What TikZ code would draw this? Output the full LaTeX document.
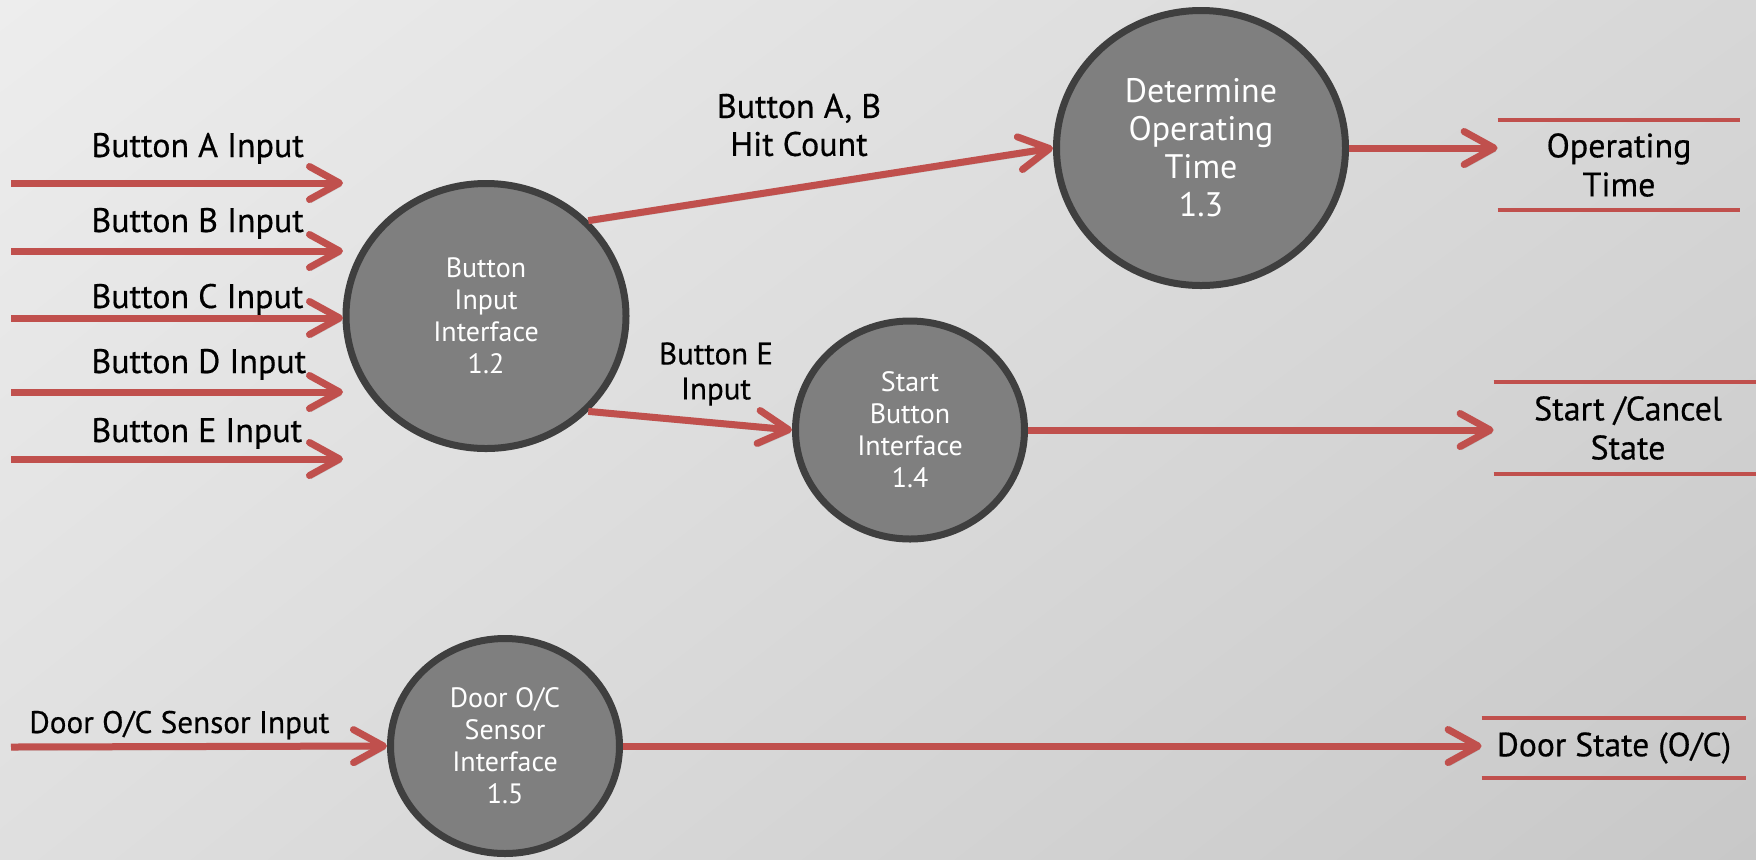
\documentclass[tikz,border=0pt]{standalone}
\usepackage{fontspec}
\setmainfont{PT Sans}
\newfontfamily\labelfamily{PT Sans}[FakeBold=0.5]
\usetikzlibrary{arrows.meta,shapes.geometric,shadings}
\definecolor{flowred}{HTML}{C0504D}
\definecolor{procfill}{HTML}{7F7F7F}
\definecolor{procedge}{HTML}{3F3F3F}
\definecolor{bgUL}{HTML}{EDEDED}
\definecolor{bgUR}{HTML}{D7D7D7}
\definecolor{bgLL}{HTML}{DFDFDF}
\definecolor{bgLR}{HTML}{C8C8C8}
\begin{document}
\begin{tikzpicture}[x=0.5pt,y=-0.5pt,
  flow/.style={draw=flowred, line width=3.5pt,
    -{Straight Barb[length=15pt,width=16.5pt,round]},
    preaction={draw=black, opacity=0.12,
      transform canvas={shift={(0.8pt,-1.6pt)}}}},
  proc/.style={ellipse, draw=procedge, line width=3.5pt, fill=procfill,
    text=white, align=center, inner sep=0pt},
  smallproc/.style={proc, font=\fontsize{14}{16}\selectfont},
  bigproc/.style={proc, font=\fontsize{17}{19}\selectfont},
  lbl/.style={text=black, inner sep=0pt, font=\labelfamily\fontsize{17}{19}\selectfont},
  store/.style={inner sep=0pt, align=center, text=black,
    font=\labelfamily\fontsize{17}{19.5}\selectfont},
  storeline/.style={draw=flowred, line width=2pt}]

% backdrop
\shade[upper left=bgUL, upper right=bgUR, lower left=bgLL, lower right=bgLR]
  (0,0) rectangle (1756,859);
\useasboundingbox (0,0) rectangle (1756,859);

% processes
\node[smallproc, minimum width=140pt, minimum height=132.5pt] (p12) at (486,316)
  {Button\\Input\\Interface\\1.2};
\node[bigproc, minimum width=144.5pt, minimum height=137.5pt] (p13) at (1201,148)
  {Determine\\Operating\\Time\\1.3};
\node[smallproc, minimum width=114.5pt, minimum height=109pt] (p14) at (910,430)
  {Start\\Button\\Interface\\1.4};
\node[smallproc, minimum width=114.5pt, minimum height=107.5pt] (p15) at (505,746)
  {Door O/C\\Sensor\\Interface\\1.5};

% data stores
\node[store, minimum width=121pt, minimum height=45pt] (ot) at (1619,165)
  {Operating\\Time};
\node[store, minimum width=134pt, minimum height=45.5pt] (sc) at (1628,428)
  {Start /Cancel\\State};
\node[store, minimum width=132pt, minimum height=30pt,
      font=\labelfamily\fontsize{16.8}{18}\selectfont] (ds) at (1614,748)
  {Door State (O/C)};
\foreach \s in {ot,sc,ds}
  \draw[storeline] (\s.north west) -- (\s.north east)
                   (\s.south west) -- (\s.south east);

% external inputs
\coordinate (aS) at (11,183);  \coordinate (aE) at (343,183);
\coordinate (bS) at (11,251);  \coordinate (bE) at (343,251);
\coordinate (cS) at (11,318);  \coordinate (cE) at (343,318);
\coordinate (dS) at (11,392);  \coordinate (dE) at (343,392);
\coordinate (eS) at (11,459);  \coordinate (eE) at (343,459);
\coordinate (doorS) at (11,747);

\draw[flow] (aS) -- (aE);
\draw[flow] (bS) -- (bE);
\draw[flow] (cS) -- (cE);
\draw[flow] (dS) -- (dE);
\draw[flow] (eS) -- (eE);
\draw[flow] (doorS) -- (p15.west);

\node[lbl, anchor=base west] (la) at (91,157) {Button A Input};
\node[lbl, anchor=base west] (lb) at (91,232) {Button B Input};
\node[lbl, anchor=base west] (lc) at (91,308) {Button C Input};
\node[lbl, anchor=base west] (ld) at (91,373) {Button D Input};
\node[lbl, anchor=base west] (le) at (91,442) {Button E Input};
\node[lbl, anchor=base west, font=\labelfamily\fontsize{15.6}{17}\selectfont] (ldoor) at (29,733)
  {Door O/C Sensor Input};

% internal flows
\draw[flow] (p12.43) -- (p13.west);
\draw[flow] (p12.-43) -- (p14.west);
\draw[flow] (p13.east) -- (p13.east -| ot.west);
\draw[flow] (p14.east) -- (p14.east -| sc.west);
\draw[flow] (p15.east) -- (p15.east -| ds.west);

\node[lbl, align=center] (lab) at (799,125) {Button A, B\\Hit Count};
\node[lbl, align=center, font=\labelfamily\fontsize{15.5}{17.5}\selectfont] (le2) at (716,374)
  {Button E\\Input};
\end{tikzpicture}
\end{document}
